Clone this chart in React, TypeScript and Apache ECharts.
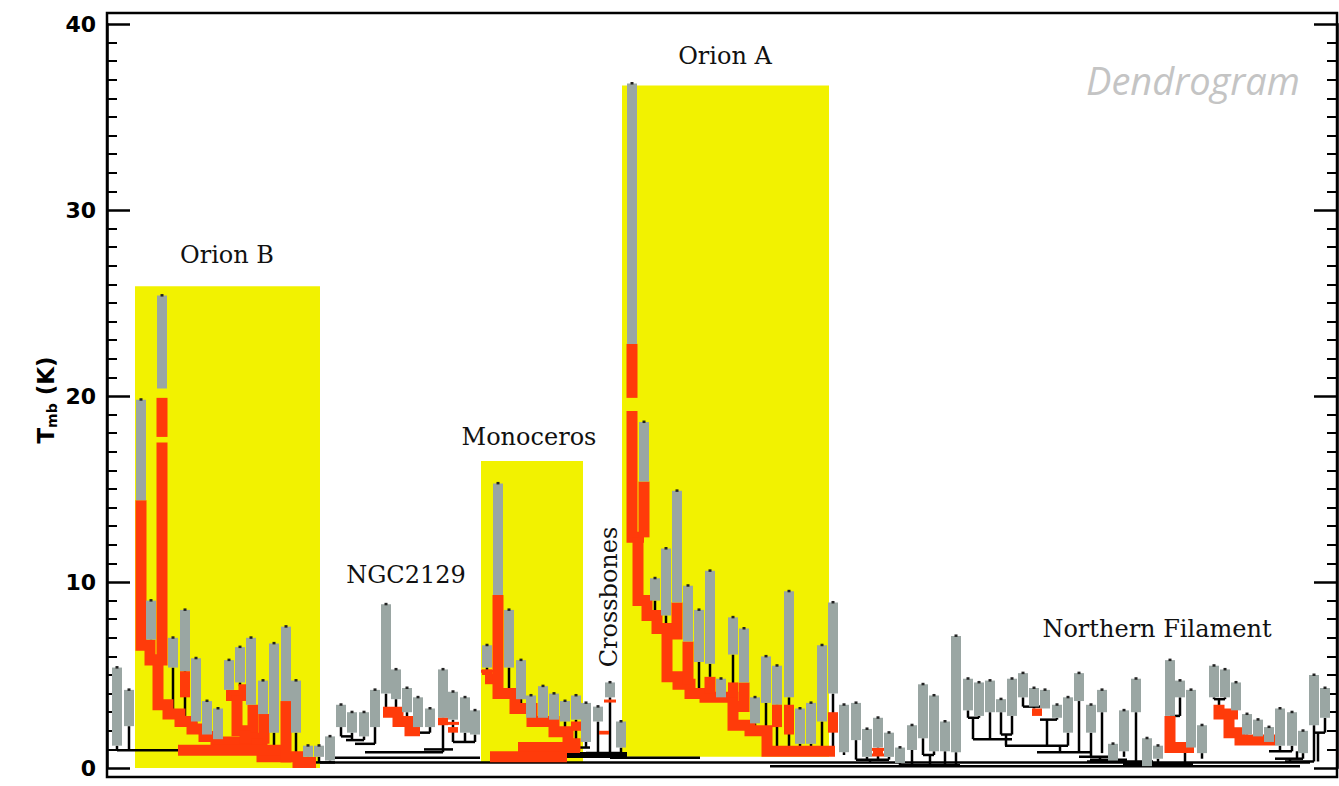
import React, { useEffect, useRef } from "react";
import * as echarts from "echarts";

// ---------- DATA (x = position along the dendrogram, k = T_mb in K) ----------
const yTicks = [0, 10, 20, 30, 40];

// complexes highlighted in yellow: [xStart, xEnd, kBottom, kTop]
const regionOrionB = [135, 320, 0, 25.9];
const regionMonoceros = [481, 583, 0.27, 16.5];
const regionOrionA = [622, 829, 0.6, 36.7];

// leaves: [x, mergeLevel, leafBottom, leafTop]
const leavesOrionB = [
  [117, 0.95, 1.2, 5.4], [129, 0.95, 2.25, 4.2], [141, 14.4, 14.4, 19.8], [151, 6.6, 6.9, 9.0],
  [162, 20.4, 20.4, 25.4], [173, 2.9, 5.4, 7.0], [185, 2.8, 5.2, 8.5], [196, 2.1, 2.5, 5.9],
  [207, 1.7, 1.8, 3.6], [218, 1.4, 1.55, 3.2], [229, 3.9, 4.2, 5.8], [240, 4.4, 4.6, 6.5],
  [251, 3.4, 3.4, 7.0], [263, 2.9, 2.9, 4.7], [274, 1.1, 1.9, 6.7], [286, 3.6, 3.6, 7.6],
  [296, 0.6, 1.9, 4.7], [308, 0.3, 0.6, 1.2], [319, 0.3, 0.6, 1.2], [330, 0.3, 0.4, 1.7],
];
const leavesNGC2129 = [
  [341, 1.7, 2.2, 3.4], [352, 1.5, 1.9, 3.0], [364, 1.5, 1.7, 3.0], [375, 1.3, 2.2, 4.2],
  [386, 3.0, 4.0, 8.8], [396, 3.0, 3.7, 5.3], [407, 2.5, 3.0, 4.3], [418, 2.0, 2.2, 3.8],
  [430, 1.9, 2.2, 3.2], [443, 0.85, 2.7, 5.3], [453, 1.4, 2.6, 4.1], [465, 1.4, 1.9, 3.8],
  [475, 1.4, 1.8, 3.1],
];
const leavesMonoceros = [
  [487, 4.8, 5.4, 6.6], [498, 9.3, 9.3, 15.3], [509, 4.0, 5.4, 8.5], [521, 3.2, 3.7, 5.8],
  [531, 2.5, 2.7, 3.9], [543, 2.5, 2.7, 4.4], [554, 2.0, 2.6, 4.0], [565, 1.95, 2.5, 3.6],
  [576, 1.3, 2.6, 3.9], [586, 1.1, 1.4, 3.5], [598, 0.8, 2.5, 3.3], [610, 0.8, 3.8, 4.6],
  [621, 0.6, 1.1, 2.5],
];
const leavesOrionA = [
  [632, 22.8, 22.8, 36.8], [644, 15.4, 15.4, 18.6], [655, 8.2, 9.0, 10.2], [666, 7.5, 8.2, 11.8],
  [677, 8.9, 8.9, 14.9], [688, 6.8, 6.8, 9.8], [699, 4.0, 5.7, 8.5], [710, 4.9, 5.6, 10.6],
  [721, 3.8, 3.8, 4.8], [733, 3.8, 6.1, 8.1], [744, 4.6, 4.6, 7.5], [755, 2.0, 2.4, 3.8],
  [766, 2.0, 3.5, 6.0], [777, 0.9, 3.4, 5.5], [789, 0.9, 3.8, 9.5], [800, 0.9, 1.3, 3.2],
  [811, 0.9, 1.3, 3.5], [822, 0.9, 2.5, 6.6], [833, 0.7, 4.0, 8.9], [844, 0.7, 0.85, 3.4],
];
const leavesField = [
  [856, 0.45, 1.5, 3.5], [867, 0.45, 0.6, 2.1], [878, 0.45, 1.1, 2.7], [889, 0.45, 0.6, 1.9],
  [900, 0.15, 0.27, 1.1], [912, 0.15, 0.97, 2.3], [923, 0.7, 1.6, 4.5], [934, 0.7, 0.9, 3.9],
  [945, 0.15, 0.9, 2.5], [956, 0.15, 0.85, 7.1],
];
const leavesNorthern = [
  [968, 2.7, 3.1, 4.8], [979, 2.7, 2.8, 4.6], [990, 1.55, 3.0, 4.7], [1001, 1.8, 3.0, 3.7],
  [1012, 1.8, 2.8, 4.8], [1023, 3.3, 3.8, 5.1], [1034, 3.3, 3.3, 4.3], [1045, 3.2, 3.2, 4.2],
  [1057, 2.6, 2.7, 3.4], [1068, 1.2, 1.9, 3.8], [1079, 0.85, 3.6, 5.1], [1091, 0.6, 1.9, 3.4],
  [1102, 0.8, 3.0, 4.2], [1113, 0.35, 0.4, 1.3], [1124, 0.6, 0.9, 3.1], [1136, 0.2, 3.0, 4.8],
  [1147, 0.1, 0.1, 1.6], [1158, 0.2, 0.5, 1.2], [1170, 2.8, 2.8, 5.8], [1180, 2.8, 3.8, 4.7],
  [1191, 1.1, 1.1, 4.2], [1202, 0.5, 0.8, 2.3], [1214, 3.7, 3.8, 5.5], [1225, 3.7, 3.8, 5.3],
  [1236, 2.9, 3.1, 4.6], [1247, 1.5, 1.8, 2.9], [1258, 1.5, 1.7, 2.6], [1269, 1.4, 1.4, 2.2],
  [1280, 0.9, 1.2, 3.2], [1292, 0.9, 1.2, 3.0], [1303, 0.5, 0.8, 2.0], [1314, 0.35, 2.3, 5.0],
  [1325, 1.9, 2.7, 4.3],
];

// thin black merge lines: [xStart, xEnd, k]
const blackMerges = [
  [117, 180, 0.95], [305, 335, 0.3],
  [341, 352, 1.7], [346, 364, 1.5], [355, 375, 1.3], [365, 443, 0.85], [418, 430, 1.9],
  [424, 453, 1.0], [453, 475, 1.4], [335, 480, 0.55],
  [580, 590, 1.1], [586, 621, 0.8], [610, 700, 0.55],
  [856, 889, 0.45], [923, 934, 0.7], [900, 960, 0.15],
  [968, 979, 2.7], [973, 1012, 1.55], [1001, 1012, 1.8], [1023, 1045, 3.3], [1040, 1057, 2.6],
  [1005, 1068, 1.2], [1037, 1090, 0.85], [1079, 1113, 0.6], [1090, 1127, 0.45], [1087, 1153, 0.35],
  [1123, 1193, 0.2], [1170, 1180, 2.8], [1214, 1225, 3.7], [1269, 1292, 0.9], [1275, 1303, 0.5],
  [1285, 1314, 0.35], [1314, 1325, 1.9],
  [320, 1310, 0.3], [770, 1300, 0.1],
];
// thin black internal stems: [x, kLow, kHigh]
const blackStems = [
  [973, 1.55, 2.7], [1006, 1.2, 1.8], [1047, 1.2, 2.6], [1034, 3.2, 3.3], [1185, 0.1, 1.1],
  [1219, 3.3, 3.7], [1060, 0.85, 1.2], [1100, 0.45, 0.6], [1120, 0.35, 0.45], [1297, 0.5, 0.9],
  [1318, 0.35, 1.9], [1290, 0.35, 0.5], [1140, 0.2, 0.35], [930, 0.15, 0.7], [870, 0.3, 0.45],
];
// thick black merge line under Monoceros
const blackThick = [[567, 627, 0.7]];

// red branch paths: lists of [x, k]
const redOrionBTrunk = [[141, 14.4], [141, 6.6], [150, 6.6], [150, 5.8], [158, 5.8], [158, 3.4], [168, 3.4], [168, 2.9], [180, 2.9], [180, 2.5], [192, 2.5], [192, 2.1], [204, 2.1], [204, 1.7], [216, 1.7], [216, 1.4], [236, 1.4], [236, 1.1], [262, 1.1], [262, 0.6], [298, 0.6], [298, 0.3], [316, 0.3]];
const redOrionBPeakUpper = [[162, 19.9], [162, 17.8]];
const redOrionBPeakLower = [[162, 17.5], [162, 5.8], [154, 5.8]];
const redOrionBSub1 = [[226, 3.9], [244, 3.9], [244, 4.5]];
const redOrionBSub2 = [[237, 3.9], [237, 2.0], [253, 2.0], [253, 3.4]];
const redOrionBSub3 = [[245, 2.0], [245, 1.6], [264, 1.6], [264, 2.9]];
const redOrionBSub4 = [[257, 1.6], [257, 1.0]];
const redOrionBBand = [[178, 0.95], [290, 0.95]];
const redOrionBLeaf14 = [[286, 3.6], [286, 0.3]];
const redNGC2129 = [[383, 3.0], [398, 3.0], [398, 2.5], [410, 2.5], [410, 2.0], [420, 2.0]];
const redMonocerosA = [[485, 4.8], [498, 4.8]];
const redMonocerosTrunk = [[498, 9.3], [498, 4.0], [515, 4.0], [515, 3.2], [532, 3.2], [532, 2.5], [554, 2.5], [554, 1.95], [568, 1.95], [568, 1.3], [575, 1.3], [575, 0.9]];
const redMonocerosBand1 = [[518, 1.1], [580, 1.1]];
const redMonocerosBand2 = [[490, 0.6], [567, 0.6]];
const redOrionAUpper = [[632, 22.8], [632, 19.9]];
const redOrionA1 = [[632, 19.2], [632, 12.4], [644, 12.4]];
const redOrionA2 = [[644, 15.4], [644, 12.4]];
const redOrionATrunk = [[638, 12.4], [638, 9.0], [647, 9.0], [647, 8.2], [657, 8.2], [657, 7.5], [667, 7.5], [667, 4.9], [678, 4.9], [678, 4.5], [690, 4.5], [690, 4.0], [705, 4.0], [705, 3.8], [733, 3.8], [733, 2.3], [750, 2.3], [750, 2.0], [767, 2.0], [767, 0.9], [835, 0.9]];
const redOrionA5 = [[677, 8.9], [677, 7.2], [667, 7.2]];
const redOrionA6 = [[688, 6.8], [688, 4.5]];
const redOrionA8 = [[710, 4.9], [710, 4.0]];
const redOrionA11 = [[744, 4.6], [744, 3.3], [733, 3.3]];
const redNorthern1 = [[1170, 2.8], [1170, 1.1], [1194, 1.1]];
const redNorthern2 = [[1219, 3.4], [1219, 2.9], [1238, 2.9]];
const redNorthern3 = [[1229, 2.9], [1229, 1.9], [1240, 1.9], [1240, 1.5], [1275, 1.5]];

// red blocks on single leaves: [x, kLow, kHigh]
const redBlocks = [
  [185, 3.8, 5.2], [443, 2.3, 2.7], [453, 1.9, 2.2], [576, 2.0, 2.5], [604, 1.8, 2.0],
  [733, 3.8, 4.6], [777, 2.2, 3.4], [789, 1.8, 3.4], [833, 1.9, 3.0], [878, 0.7, 1.0],
  [1037, 2.8, 3.2], [487, 5.0, 5.3],
];
// small red cross-ticks: [x, k]
const redTicks = [[453, 2.4], [610, 3.6], [487, 5.2], [878, 1.0], [878, 0.7]];

// labels of the complexes: [text, x, k]
const complexLabels = [
  ["Orion B", 227, 27.6],
  ["Monoceros", 529, 17.8],
  ["Orion A", 725, 38.3],
  ["NGC2129", 406, 10.4],
  ["Northern Filament", 1157, 7.5],
];

const GRAY = "#9aa6a3";
const RED = "#ff3b0a";
const YELLOW = "#f2f200";

export default function App() {
  const ref = useRef<HTMLDivElement>(null);
  useEffect(() => {
    const chart = echarts.init(ref.current!, null, { renderer: "svg" });
    const leaves = [
      ...leavesOrionB, ...leavesNGC2129, ...leavesMonoceros, ...leavesOrionA,
      ...leavesField, ...leavesNorthern,
    ];
    const regions = [regionOrionB, regionMonoceros, regionOrionA];
    const redPaths = [
      redOrionBTrunk, redOrionBPeakUpper, redOrionBPeakLower, redOrionBSub1, redOrionBSub2,
      redOrionBSub3, redOrionBSub4, redOrionBBand, redOrionBLeaf14, redNGC2129, redMonocerosA,
      redMonocerosTrunk, redMonocerosBand1, redMonocerosBand2, redOrionAUpper, redOrionA1,
      redOrionA2, redOrionATrunk, redOrionA5, redOrionA6, redOrionA8, redOrionA11,
      redNorthern1, redNorthern2, redNorthern3,
    ];

    const yAxisBase = {
      type: "value",
      min: yTicks[0],
      max: yTicks[yTicks.length - 1],
      interval: 10,
      splitLine: { show: false },
      axisLine: { show: true, lineStyle: { color: "#000", width: 2.5 } },
      axisTick: { show: true, inside: true, length: 23, lineStyle: { color: "#000", width: 2.5 } },
      minorTick: { show: true, splitNumber: 10, length: 10, lineStyle: { color: "#000", width: 2 } },
    };

    const series: any[] = [];
    series.push({
      type: "custom",
      name: "complexes",
      z: 1,
      clip: false,
      silent: true,
      data: regions,
      encode: { x: [0, 1], y: [2, 3] },
      renderItem: (_p: any, api: any) => {
        const a = api.coord([api.value(0), api.value(3)]);
        const b = api.coord([api.value(1), api.value(2)]);
        return { type: "rect", shape: { x: a[0], y: a[1], width: b[0] - a[0], height: b[1] - a[1] }, style: { fill: YELLOW } };
      },
    });
    series.push({
      type: "custom",
      name: "merges",
      z: 2,
      clip: false,
      silent: true,
      data: blackMerges,
      encode: { x: [0, 1], y: 2 },
      renderItem: (_p: any, api: any) => {
        const a = api.coord([api.value(0), api.value(2)]);
        const b = api.coord([api.value(1), api.value(2)]);
        return { type: "line", shape: { x1: a[0], y1: a[1], x2: b[0], y2: b[1] }, style: { stroke: "#000", lineWidth: 2.5 } };
      },
    });
    series.push({
      type: "custom",
      name: "thickMerge",
      z: 2,
      clip: false,
      silent: true,
      data: blackThick,
      encode: { x: [0, 1], y: 2 },
      renderItem: (_p: any, api: any) => {
        const a = api.coord([api.value(0), api.value(2)]);
        const b = api.coord([api.value(1), api.value(2)]);
        return { type: "line", shape: { x1: a[0], y1: a[1], x2: b[0], y2: b[1] }, style: { stroke: "#000", lineWidth: 6 } };
      },
    });
    series.push({
      type: "custom",
      name: "internalStems",
      z: 2,
      clip: false,
      silent: true,
      data: blackStems,
      encode: { x: 0, y: [1, 2] },
      renderItem: (_p: any, api: any) => {
        const a = api.coord([api.value(0), api.value(1)]);
        const b = api.coord([api.value(0), api.value(2)]);
        return { type: "line", shape: { x1: a[0], y1: a[1], x2: b[0], y2: b[1] }, style: { stroke: "#000", lineWidth: 2.5 } };
      },
    });
    series.push({
      type: "custom",
      name: "leafStems",
      z: 3,
      clip: false,
      silent: true,
      data: leaves,
      encode: { x: 0, y: [1, 2] },
      renderItem: (_p: any, api: any) => {
        const a = api.coord([api.value(0), api.value(1)]);
        const b = api.coord([api.value(0), api.value(2)]);
        return { type: "line", shape: { x1: a[0], y1: a[1], x2: b[0], y2: b[1] }, style: { stroke: "#000", lineWidth: 2.5 } };
      },
    });
    redPaths.forEach((p, i) => {
      series.push({
        type: "line",
        name: "branch" + i,
        z: 4,
        silent: true,
        data: p,
        showSymbol: false,
        symbol: "none",
        clip: false,
        lineStyle: { color: RED, width: 11, join: "miter", cap: "butt", miterLimit: 4 },
      });
    });
    series.push({
      type: "custom",
      name: "leaves",
      z: 5,
      clip: false,
      silent: true,
      data: leaves,
      encode: { x: 0, y: [2, 3] },
      renderItem: (_p: any, api: any) => {
        const top = api.coord([api.value(0), api.value(3)]);
        const bot = api.coord([api.value(0), api.value(2)]);
        return {
          type: "group",
          children: [
            { type: "rect", shape: { x: top[0] - 5, y: top[1], width: 10, height: bot[1] - top[1] }, style: { fill: GRAY } },
            { type: "rect", shape: { x: top[0] - 1.5, y: top[1] - 1.5, width: 3, height: 2.5 }, style: { fill: "#222" } },
          ],
        };
      },
    });
    series.push({
      type: "custom",
      name: "redBlocks",
      z: 6,
      clip: false,
      silent: true,
      data: redBlocks,
      encode: { x: 0, y: [1, 2] },
      renderItem: (_p: any, api: any) => {
        const a = api.coord([api.value(0), api.value(2)]);
        const b = api.coord([api.value(0), api.value(1)]);
        return { type: "rect", shape: { x: a[0] - 5, y: a[1], width: 10, height: b[1] - a[1] }, style: { fill: RED } };
      },
    });
    series.push({
      type: "custom",
      name: "redTicks",
      z: 6,
      clip: false,
      silent: true,
      data: redTicks,
      encode: { x: 0, y: 1 },
      renderItem: (_p: any, api: any) => {
        const a = api.coord([api.value(0), api.value(1)]);
        return { type: "rect", shape: { x: a[0] - 6, y: a[1] - 1.5, width: 12, height: 3 }, style: { fill: RED } };
      },
    });
    series.push({
      type: "custom",
      name: "complexLabels",
      z: 7,
      clip: false,
      silent: true,
      data: complexLabels.map((c) => [c[1], c[2], c[0]]),
      encode: { x: 0, y: 1 },
      renderItem: (_p: any, api: any) => {
        const a = api.coord([api.value(0), api.value(1)]);
        return {
          type: "text",
          x: a[0],
          y: a[1],
          style: {
            text: String(api.value(2)),
            fill: "#111",
            font: "24px 'DejaVu Serif', serif",
            align: "center",
            verticalAlign: "middle",
          },
        };
      },
    });

    chart.setOption({
      animation: false,
      backgroundColor: "#fff",
      grid: { left: 107, right: 2, top: 24, bottom: 18, containLabel: false },
      xAxis: { type: "value", min: 107, max: 1337, show: false },
      yAxis: [
        {
          ...yAxisBase,
          position: "left",
          axisLabel: { show: true, fontSize: 22, fontWeight: "bold", color: "#000", margin: 11, fontFamily: "'DejaVu Sans', sans-serif" },
        },
        { ...yAxisBase, position: "right", axisLabel: { show: false } },
      ],
      graphic: [
        {
          type: "rect",
          z: 100,
          silent: true,
          shape: { x: 107, y: 13, width: 1230, height: 764 },
          style: { fill: "none", stroke: "#000", lineWidth: 2.5 },
        },
        {
          type: "text",
          z: 100,
          x: 46,
          y: 400,
          rotation: Math.PI / 2,
          style: {
            text: "{a|T}{b|mb}{a| (K)}",
            align: "center",
            verticalAlign: "middle",
            rich: {
              a: { fontSize: 23, fontWeight: "bold", fontFamily: "'DejaVu Sans', sans-serif", fill: "#000", lineHeight: 26 },
              b: { fontSize: 14, fontWeight: "bold", fontFamily: "'DejaVu Sans', sans-serif", fill: "#000", verticalAlign: "bottom", lineHeight: 26, padding: [10, 0, 0, 0] },
            },
          },
        },
        {
          type: "text",
          z: 100,
          x: 609,
          y: 597,
          rotation: Math.PI / 2,
          style: { text: "Crossbones", font: "24px 'DejaVu Serif', serif", fill: "#111", align: "center", verticalAlign: "middle" },
        },
        {
          type: "text",
          z: 100,
          x: 1193,
          y: 80,
          style: { text: "Dendrogram", font: "italic 38px 'Open Sans', sans-serif", fill: "#c4c4c4", align: "center", verticalAlign: "middle" },
        },
      ],
      series,
    });
    return () => chart.dispose();
  }, []);
  return (
    <div
      ref={ref}
      style={{ position: "absolute", left: 0, top: 0, width: 1339, height: 786, background: "#fff" }}
    />
  );
}
